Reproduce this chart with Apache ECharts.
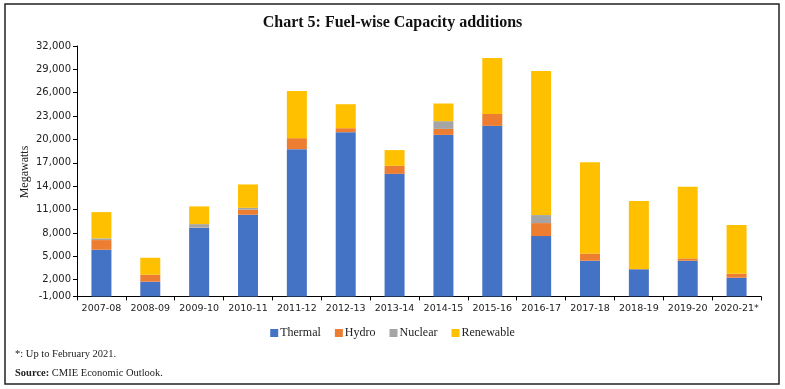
<!DOCTYPE html>
<html>
<head>
<meta charset="utf-8">
<script src="https://cdn.jsdelivr.net/npm/echarts@6/dist/echarts.min.js"></script>
<style>html,body{margin:0;padding:0;background:#fff}#c{width:785px;height:389px}</style>
</head>
<body>
<div id="c"></div>
<script>
const categories = ['2007-08','2008-09','2009-10','2010-11','2011-12','2012-13','2013-14','2014-15','2015-16','2016-17','2017-18','2018-19','2019-20','2020-21*'];
const thermal   = [5850,1750,8670,10340,18760,20940,15590,20590,21750,7600,4440,3340,4440,2260];
const hydro     = [1240, 890,  40,  640, 1410,  510, 1030,  770, 1530,1670, 900,  50, 300, 510];
const nuclear   = [ 220,   0, 430,  250,    0,    0,    0,  990,    0,1030,   0,   0,   0,   0];
const renewable = [3370,2180,2270, 3000, 6060, 3080, 2020, 2270, 7180,18500,11750,8710,9180,6250];
const seriesNames = ['Thermal','Hydro','Nuclear','Renewable'];
const tickValues = [-140,2000,5000,8000,11000,14000,17000,20000,23000,26000,29000,32000];
const tickLabels = ['-1,000','2,000','5,000','8,000','11,000','14,000','17,000','20,000','23,000','26,000','29,000','32,000'];
const colors = ['#4472C4','#ED7D31','#A5A5A5','#FFC000'];

const chart = echarts.init(document.getElementById('c'), null, {renderer:'canvas'});
const seriesData = [thermal, hydro, nuclear, renewable];
const option = {
  animation: false,
  color: colors,
  title: {
    text: 'Chart 5: Fuel-wise Capacity additions',
    left: 'center', top: 10,
    textStyle: {fontFamily: 'Liberation Serif', fontWeight: 'bold', fontSize: 16, color: '#111'}
  },
  legend: {
    data: seriesNames,
    left: 'center', top: 322,
    icon: 'rect', itemWidth: 8, itemHeight: 8, itemGap: 14,
    textStyle: {fontFamily: 'Liberation Serif', fontSize: 12, color: '#222', padding:[0,0,0,-3]}
  },
  grid: {left: 77, right: 24, top: 46, bottom: 92.6, containLabel: false},
  xAxis: {
    type: 'category', data: categories,
    axisLine: {onZero: false, lineStyle: {color: '#000', width: 1}},
    axisTick: {show: true, length: 4, lineStyle: {color: '#000'}},
    axisLabel: {interval: 0, hideOverlap: false, fontFamily: 'DejaVu Sans', fontSize: 9.5, color: '#222', margin: 7}
  },
  yAxis: {
    type: 'value', min: -140, max: 32000, startValue: -140,
    splitLine: {show: false},
    axisLine: {show: true, lineStyle: {color: '#000', width: 1}},
    axisTick: {show: true, length: 4, lineStyle: {color: '#000'}, customValues: tickValues},
    axisLabel: {
      fontFamily: 'DejaVu Sans', fontSize: 10, color: '#222', margin: 6,
      customValues: tickValues,
      formatter: function (v) { const i = tickValues.indexOf(v); return i >= 0 ? tickLabels[i] : ''; }
    }
  },
  series: seriesNames.map(function (n, i) {
    return {
      name: n, type: 'bar', stack: 'total', barWidth: 20,
      data: seriesData[i],
      itemStyle: {color: colors[i]}
    };
  }),
  graphic: [
    {type: 'rect', shape: {x: 5, y: 4, width: 774, height: 380}, style: {fill: 'none', stroke: '#222', lineWidth: 1.5}, silent: true},
    {type: 'text', x: 25, y: 172, rotation: Math.PI / 2, style: {text: 'Megawatts', font: '12px "Liberation Serif"', fill: '#222', align: 'center', verticalAlign: 'middle'}},
    {type: 'text', left: 15, top: 349, style: {text: '*: Up to February 2021.', font: '10.5px "Liberation Serif"', fill: '#222'}},
    {type: 'text', left: 15, top: 368, style: {
      text: '{b|Source:} CMIE Economic Outlook.',
      rich: {b: {fontFamily: 'Liberation Serif', fontWeight: 'bold', fontSize: 10.5, fill: '#222'}},
      font: '10.5px "Liberation Serif"', fill: '#222'}}
  ]
};
chart.setOption(option);
</script>
</body>
</html>
